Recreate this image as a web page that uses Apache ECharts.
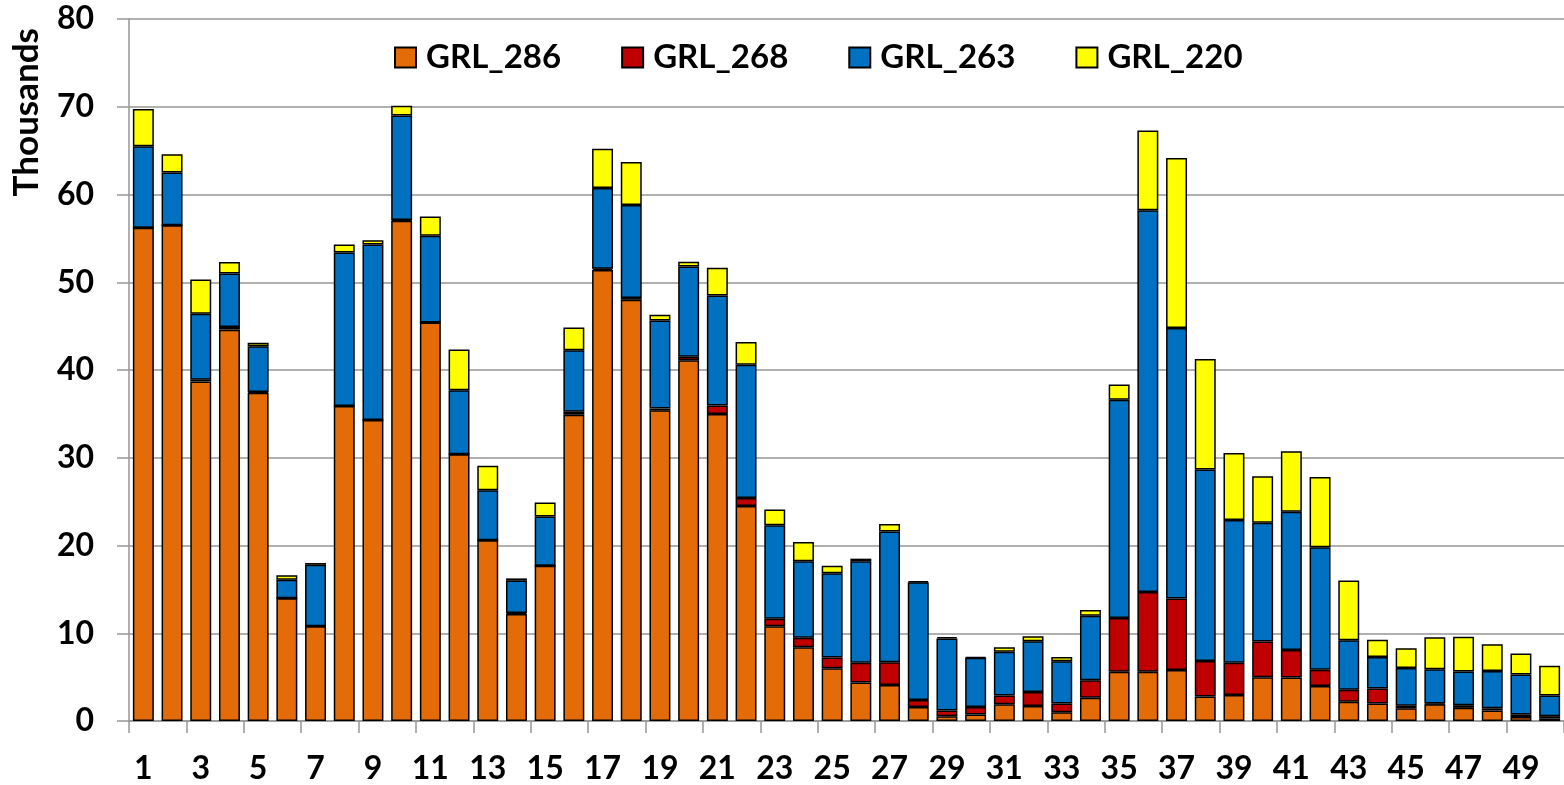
<!DOCTYPE html>
<html>
<head>
<meta charset="utf-8">
<script src="https://cdn.jsdelivr.net/npm/echarts@6/dist/echarts.min.js"></script>
<style>
html, body { margin: 0; padding: 0; background: #fff; }
#myChart { width: 1564px; height: 785px; }
</style>
</head>
<body>
<div id="myChart"></div>
<script>
// categories 1..50
var categories = ['1','2','3','4','5','6','7','8','9','10','11','12','13','14','15','16','17','18','19','20',
    '21','22','23','24','25','26','27','28','29','30','31','32','33','34','35','36','37','38','39','40',
    '41','42','43','44','45','46','47','48','49','50'];

// values in thousands, stacked bottom to top
var grl286 = [56.2, 56.5, 38.7, 44.6, 37.4, 14.0, 10.8, 35.9, 34.3, 57.0,
    45.4, 30.4, 20.6, 12.2, 17.7, 34.9, 51.4, 48.0, 35.4, 41.1,
    35.0, 24.5, 10.8, 8.4, 6.0, 4.4, 4.1, 1.6, 0.55, 0.75,
    1.9, 1.7, 1.0, 2.65, 5.6, 5.6, 5.8, 2.8, 2.95, 5.0,
    4.95, 4.0, 2.2, 2.0, 1.45, 1.9, 1.5, 1.2, 0.45, 0.3];
var grl268 = [0, 0, 0.2, 0.3, 0.1, 0, 0, 0, 0, 0.1,
    0, 0, 0, 0.1, 0, 0.35, 0.15, 0.2, 0.2, 0.4,
    0.95, 0.9, 0.85, 1.1, 1.25, 2.25, 2.6, 0.8, 0.65, 0.85,
    1.0, 1.6, 1.0, 2.0, 6.15, 9.1, 8.15, 4.05, 3.7, 4.05,
    3.15, 1.85, 1.35, 1.7, 0.3, 0.1, 0.3, 0.25, 0.3, 0.25];
var grl263 = [9.3, 6.0, 7.5, 6.1, 5.2, 2.1, 7.0, 17.5, 20.0, 11.9,
    9.9, 7.3, 5.7, 3.7, 5.6, 7.0, 9.2, 10.6, 10.05, 10.3,
    12.55, 15.2, 10.65, 8.7, 9.6, 11.55, 14.9, 13.4, 8.2, 5.6,
    5.0, 5.8, 4.8, 7.35, 24.85, 43.5, 30.85, 21.8, 16.25, 13.55,
    15.75, 13.95, 5.65, 3.6, 4.3, 3.9, 3.85, 4.25, 4.55, 2.35];
var grl220 = [4.25, 2.1, 3.9, 1.3, 0.4, 0.5, 0.2, 0.9, 0.5, 1.1,
    2.2, 4.65, 2.8, 0.25, 1.6, 2.6, 4.45, 4.9, 0.65, 0.55,
    3.15, 2.6, 1.8, 2.2, 0.85, 0.3, 0.85, 0.15, 0.15, 0.1,
    0.5, 0.55, 0.5, 0.65, 1.75, 9.1, 19.35, 12.6, 7.65, 5.3,
    6.9, 8.0, 6.8, 1.95, 2.25, 3.65, 3.95, 3.05, 2.4, 3.4];

var yTicks = [0, 10, 20, 30, 40, 50, 60, 70, 80];

var fontFamily = 'Lato';
var gridColor = '#969696';

function barSeries(name, data, color) {
    return {
        name: name,
        type: 'bar',
        stack: 'total',
        barCategoryGap: '27%',
        itemStyle: {
            color: color,
            borderColor: '#000',
            borderWidth: 1.5
        },
        data: data
    };
}

var myChart = echarts.init(document.getElementById('myChart'));

var option = {
    animation: false,
    backgroundColor: '#fff',
    grid: {
        left: 129,
        right: -5,
        top: 19,
        bottom: 63,
        containLabel: false
    },
    legend: {
        left: 389,
        top: 36,
        icon: 'rect',
        itemWidth: 21,
        itemHeight: 20,
        itemGap: 60,
        textStyle: {
            fontFamily: fontFamily,
            fontWeight: 'bold',
            fontSize: 33,
            color: '#000',
            padding: [0, 0, 0, 5]
        },
        data: ['GRL_286', 'GRL_268', 'GRL_263', 'GRL_220']
    },
    graphic: [{
        type: 'text',
        left: 9,
        top: 28,
        rotation: Math.PI / 2,
        style: {
            text: 'Thousands',
            fontFamily: fontFamily,
            fontWeight: 'bold',
            fontSize: 35,
            fill: '#000'
        }
    }],
    xAxis: {
        type: 'category',
        data: categories,
        axisLine: {
            lineStyle: { color: gridColor, width: 1.5 }
        },
        axisTick: {
            show: true,
            length: 12,
            lineStyle: { color: gridColor, width: 1.5 }
        },
        axisLabel: {
            interval: 1,
            margin: 32,
            fontFamily: fontFamily,
            fontWeight: 'bold',
            fontSize: 32,
            color: '#000'
        }
    },
    yAxis: {
        type: 'value',
        min: yTicks[0],
        max: yTicks[yTicks.length - 1],
        interval: 10,
        axisLine: {
            show: true,
            lineStyle: { color: gridColor, width: 1.5 }
        },
        axisTick: {
            show: true,
            length: 12,
            lineStyle: { color: gridColor, width: 1.5 }
        },
        splitLine: {
            show: true,
            lineStyle: { color: gridColor, width: 1.5 }
        },
        axisLabel: {
            margin: 35,
            fontFamily: fontFamily,
            fontWeight: 'bold',
            fontSize: 32,
            color: '#000'
        }
    },
    series: [
        barSeries('GRL_286', grl286, '#E36C09'),
        barSeries('GRL_268', grl268, '#C00000'),
        barSeries('GRL_263', grl263, '#0070C0'),
        barSeries('GRL_220', grl220, '#FFFF00')
    ]
};

myChart.setOption(option);

window.addEventListener('resize', function () {
    myChart.resize();
});
</script>
</body>
</html>
